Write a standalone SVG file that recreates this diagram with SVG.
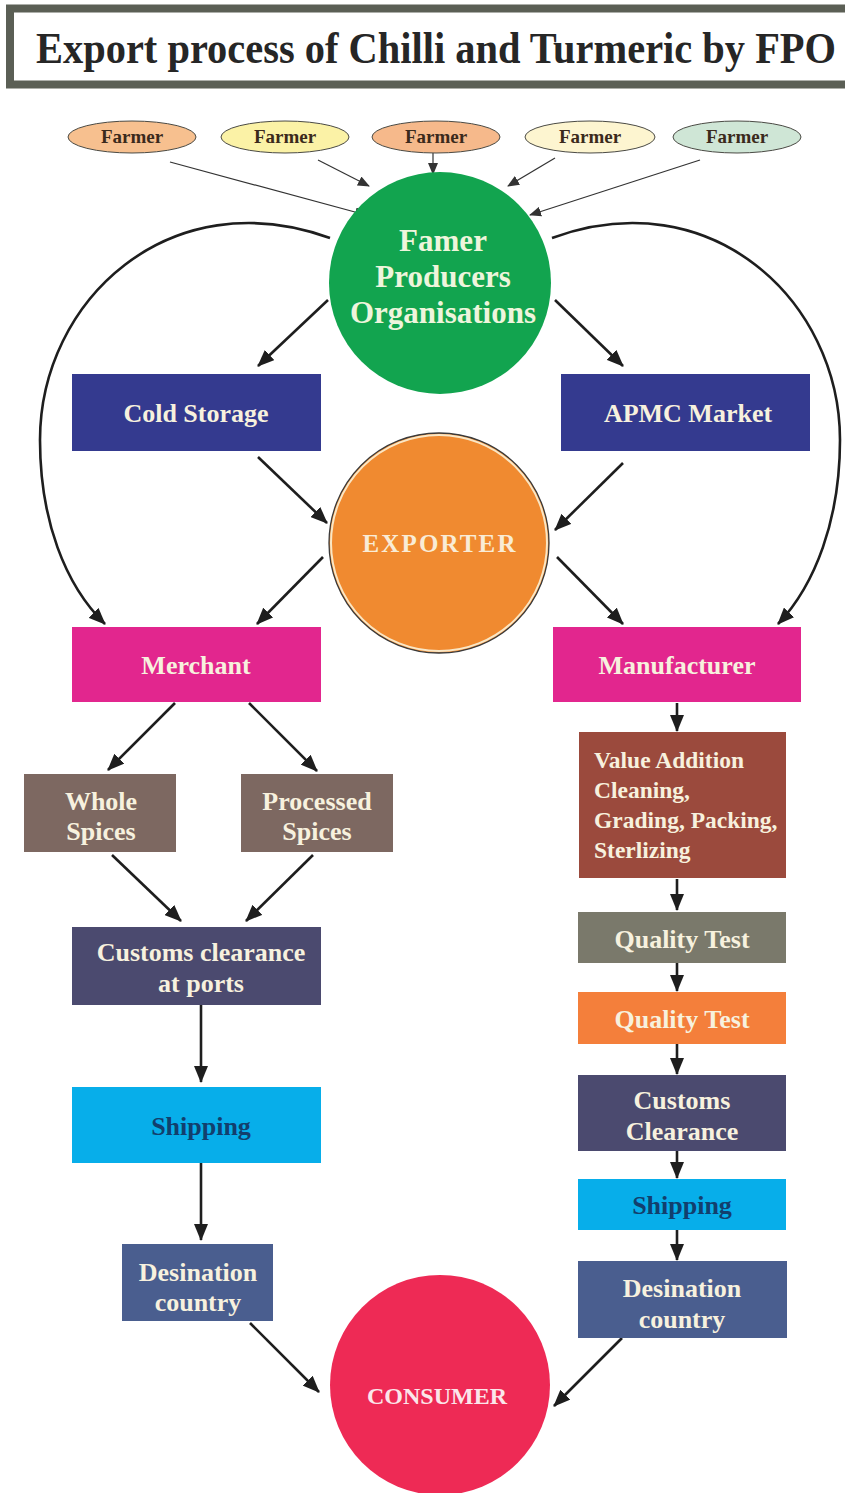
<svg xmlns="http://www.w3.org/2000/svg" width="845" height="1493" viewBox="0 0 845 1493">
  <style>
    text { font-family: "Liberation Serif", "Times New Roman", serif; font-weight: bold; text-anchor: middle; }
    .farmer { font-size: 19px; fill: #3b2a1c; }
    .lbl { font-size: 26px; fill: #f7f1de; }
    .fpo { font-size: 31px; fill: #eef5dc; }
    .exp { font-size: 25px; fill: #f9ecd6; }
    .cons { font-size: 24px; fill: #fbe6ea; }
    .ship { font-size: 26px; fill: #123f6d; }
    .va { font-size: 23.5px; fill: #f7f1de; text-anchor: start; }
    .fe { stroke: #4a4a44; stroke-width: 1; }
    .thin { stroke: #333; stroke-width: 1.2; fill: none; }
    .main { stroke: #1e1e1e; stroke-width: 2.6; fill: none; }
  </style>
  <defs>
    <marker id="ah" markerUnits="userSpaceOnUse" markerWidth="18" markerHeight="14" refX="16" refY="7" orient="auto">
      <path d="M0,0 L17,7 L0,14 z" fill="#1e1e1e"/>
    </marker>
    <marker id="ahs" markerUnits="userSpaceOnUse" markerWidth="12" markerHeight="10" refX="11" refY="5" orient="auto">
      <path d="M0,0 L12,5 L0,10 z" fill="#333"/>
    </marker>
  </defs>

  <!-- title banner -->
  <g id="title">
    <rect x="10" y="8.5" width="850" height="76" fill="#ffffff" stroke="#5b5f55" stroke-width="8"/>
    <text x="436" y="63" font-size="45" fill="#262626" textLength="800" lengthAdjust="spacingAndGlyphs">Export process of Chilli and Turmeric by FPO</text>
  </g>

  <!-- connectors -->
  <g id="connectors">
    <!-- farmers to FPO -->
    <line class="thin" x1="170" y1="162" x2="366" y2="215" marker-end="url(#ahs)"/>
    <line class="thin" x1="318" y1="160" x2="369" y2="186" marker-end="url(#ahs)"/>
    <line class="thin" x1="433" y1="153" x2="433" y2="174" marker-end="url(#ahs)"/>
    <line class="thin" x1="555" y1="158" x2="508" y2="186" marker-end="url(#ahs)"/>
    <line class="thin" x1="700" y1="160" x2="530" y2="215" marker-end="url(#ahs)"/>

    <!-- long bypass curves -->
    <path class="main" d="M330,238 C170,180 40,300 40,440 C40,520 65,585 105,624" marker-end="url(#ah)"/>
    <path class="main" d="M552,238 C710,180 840,300 840,440 C840,520 815,585 778,624" marker-end="url(#ah)"/>

    <!-- FPO to storage / market -->
    <line class="main" x1="328" y1="300" x2="258" y2="366" marker-end="url(#ah)"/>
    <line class="main" x1="555" y1="300" x2="623" y2="366" marker-end="url(#ah)"/>

    <!-- into exporter -->
    <line class="main" x1="258" y1="457" x2="327" y2="523" marker-end="url(#ah)"/>
    <line class="main" x1="623" y1="463" x2="555" y2="530" marker-end="url(#ah)"/>

    <!-- exporter out -->
    <line class="main" x1="323" y1="557" x2="257" y2="624" marker-end="url(#ah)"/>
    <line class="main" x1="557" y1="557" x2="623" y2="624" marker-end="url(#ah)"/>

    <!-- merchant branch -->
    <line class="main" x1="175" y1="703" x2="108" y2="770" marker-end="url(#ah)"/>
    <line class="main" x1="249" y1="703" x2="317" y2="771" marker-end="url(#ah)"/>
    <line class="main" x1="112" y1="855" x2="181" y2="921" marker-end="url(#ah)"/>
    <line class="main" x1="313" y1="855" x2="246" y2="921" marker-end="url(#ah)"/>
    <line class="main" x1="201" y1="1005" x2="201" y2="1082" marker-end="url(#ah)"/>
    <line class="main" x1="201" y1="1163" x2="201" y2="1240" marker-end="url(#ah)"/>
    <line class="main" x1="250" y1="1323" x2="319" y2="1392" marker-end="url(#ah)"/>

    <!-- manufacturer branch -->
    <line class="main" x1="677" y1="703" x2="677" y2="731" marker-end="url(#ah)"/>
    <line class="main" x1="677" y1="879" x2="677" y2="910" marker-end="url(#ah)"/>
    <line class="main" x1="677" y1="963" x2="677" y2="991" marker-end="url(#ah)"/>
    <line class="main" x1="677" y1="1044" x2="677" y2="1074" marker-end="url(#ah)"/>
    <line class="main" x1="677" y1="1151" x2="677" y2="1178" marker-end="url(#ah)"/>
    <line class="main" x1="677" y1="1230" x2="677" y2="1260" marker-end="url(#ah)"/>
    <line class="main" x1="622" y1="1338" x2="554" y2="1406" marker-end="url(#ah)"/>
  </g>

  <!-- farmers -->
  <g id="farmer1"><ellipse class="fe" cx="132" cy="137" rx="64" ry="16" fill="#f7c08f"/><text class="farmer" x="132" y="143">Farmer</text></g>
  <g id="farmer2"><ellipse class="fe" cx="285" cy="137" rx="64" ry="16" fill="#fbf2a6"/><text class="farmer" x="285" y="143">Farmer</text></g>
  <g id="farmer3"><ellipse class="fe" cx="436" cy="137" rx="64" ry="16" fill="#f6b98b"/><text class="farmer" x="436" y="143">Farmer</text></g>
  <g id="farmer4"><ellipse class="fe" cx="590" cy="137" rx="65" ry="16" fill="#fdf5d0"/><text class="farmer" x="590" y="143">Farmer</text></g>
  <g id="farmer5"><ellipse class="fe" cx="737" cy="137" rx="64" ry="16" fill="#cfe6d6"/><text class="farmer" x="737" y="143">Farmer</text></g>

  <!-- FPO -->
  <g id="fpo">
    <circle cx="440" cy="283" r="111" fill="#12a44f"/>
    <text class="fpo" x="443" y="251">Famer</text>
    <text class="fpo" x="443" y="287">Producers</text>
    <text class="fpo" x="443" y="323">Organisations</text>
  </g>

  <g id="cold-storage"><rect x="72" y="374" width="249" height="77" fill="#343a8f"/><text class="lbl" x="196" y="422">Cold Storage</text></g>
  <g id="apmc"><rect x="561" y="374" width="249" height="77" fill="#343a8f"/><text class="lbl" x="688" y="422">APMC Market</text></g>

  <g id="exporter">
    <circle cx="439" cy="543" r="110" fill="#f08a30" stroke="#3a3a3a" stroke-width="1.3"/>
    <circle cx="439" cy="543" r="108" fill="none" stroke="#f9e7c6" stroke-width="2"/>
    <text class="exp" x="439" y="552" textLength="153" lengthAdjust="spacing">EXPORTER</text>
  </g>

  <g id="merchant"><rect x="72" y="627" width="249" height="75" fill="#e2268e"/><text class="lbl" x="196" y="674">Merchant</text></g>
  <g id="manufacturer"><rect x="553" y="627" width="248" height="75" fill="#e2268e"/><text class="lbl" x="677" y="674">Manufacturer</text></g>

  <g id="whole-spices"><rect x="24" y="774" width="152" height="78" fill="#7d6861"/><text class="lbl" x="101" y="810">Whole</text><text class="lbl" x="101" y="840">Spices</text></g>
  <g id="processed-spices"><rect x="241" y="774" width="152" height="78" fill="#7d6861"/><text class="lbl" x="317" y="810">Processed</text><text class="lbl" x="317" y="840">Spices</text></g>

  <g id="customs-ports"><rect x="72" y="927" width="249" height="78" fill="#4b4a6f"/><text class="lbl" x="201" y="961">Customs clearance</text><text class="lbl" x="201" y="992">at ports</text></g>
  <g id="shipping-left"><rect x="72" y="1087" width="249" height="76" fill="#07aeea"/><text class="ship" x="201" y="1135">Shipping</text></g>
  <g id="destination-left"><rect x="122" y="1244" width="151" height="77" fill="#4a5e8f"/><text class="lbl" x="198" y="1281">Desination</text><text class="lbl" x="198" y="1311">country</text></g>

  <g id="value-addition">
    <rect x="579" y="732" width="207" height="146" fill="#9b4a3d"/>
    <text class="va" x="594" y="768">Value Addition</text>
    <text class="va" x="594" y="798">Cleaning,</text>
    <text class="va" x="594" y="828">Grading, Packing,</text>
    <text class="va" x="594" y="858">Sterlizing</text>
  </g>
  <g id="quality-test-1"><rect x="578" y="912" width="208" height="51" fill="#7a796b"/><text class="lbl" x="682" y="948">Quality Test</text></g>
  <g id="quality-test-2"><rect x="578" y="992" width="208" height="52" fill="#f47f3b"/><text class="lbl" x="682" y="1028">Quality Test</text></g>
  <g id="customs-clearance"><rect x="578" y="1075" width="208" height="76" fill="#4b4a6f"/><text class="lbl" x="682" y="1109">Customs</text><text class="lbl" x="682" y="1140">Clearance</text></g>
  <g id="shipping-right"><rect x="578" y="1179" width="208" height="51" fill="#07aeea"/><text class="ship" x="682" y="1214">Shipping</text></g>
  <g id="destination-right"><rect x="578" y="1261" width="209" height="77" fill="#4a5e8f"/><text class="lbl" x="682" y="1297">Desination</text><text class="lbl" x="682" y="1328">country</text></g>

  <g id="consumer">
    <circle cx="440" cy="1385" r="110" fill="#ee2a55"/>
    <text class="cons" x="437" y="1404">CONSUMER</text>
  </g>
</svg>
